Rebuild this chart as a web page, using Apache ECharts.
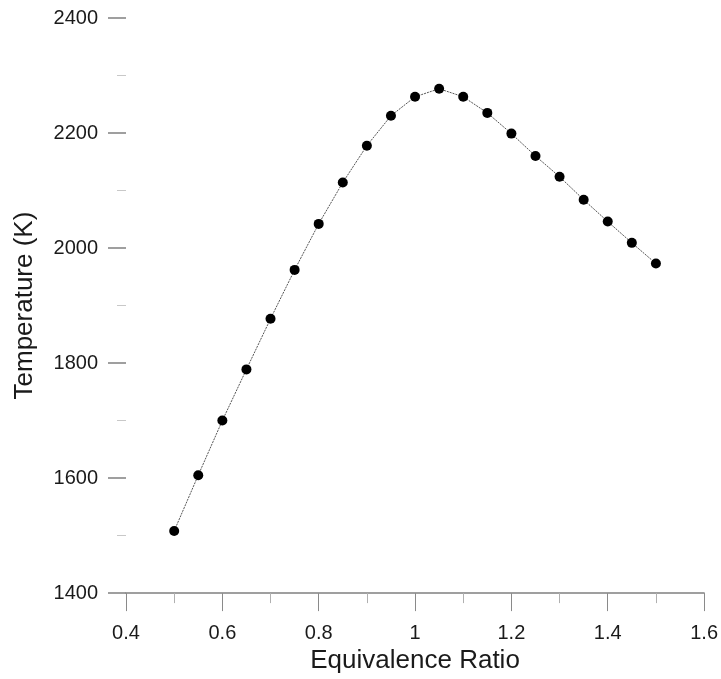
<!DOCTYPE html>
<html>
<head>
<meta charset="utf-8">
<script src="https://cdn.jsdelivr.net/npm/echarts@6/dist/echarts.min.js"></script>
<style>html,body{margin:0;padding:0;background:#fff;}#chart{width:721px;height:679px;}</style>
</head>
<body>
<div id="chart"></div>
<script>
const equivalenceRatio = [0.5,0.55,0.6,0.65,0.7,0.75,0.8,0.85,0.9,0.95,1.0,1.05,1.1,1.15,1.2,1.25,1.3,1.35,1.4,1.45,1.5];
const temperature = [1508,1605,1700,1789,1877,1962,2042,2114,2178,2230,2263,2277,2263,2235,2199,2160,2124,2084,2046,2009,1973];
const xTicks = [0.4,0.6,0.8,1.0,1.2,1.4,1.6];
const yTicks = [1400,1600,1800,2000,2200,2400];

const chart = echarts.init(document.getElementById('chart'));
const font = 'Liberation Sans, Arial, sans-serif';
chart.setOption({
  backgroundColor: '#fff',
  animation: false,
  grid: {left: 126, right: 16, top: 18, bottom: 85},
  xAxis: {
    type: 'value', min: xTicks[0], max: xTicks[xTicks.length-1], interval: 0.2,
    name: 'Equivalence Ratio', nameLocation: 'middle', nameGap: 53,
    nameTextStyle: {fontFamily: font, fontSize: 26, color: '#1a1a1a'},
    axisLine: {show: true, lineStyle: {color: '#808080', width: 1.5}},
    axisTick: {show: true, inside: false, length: 18, lineStyle: {color: '#8a8a8a', width: 1}},
    minorTick: {show: true, splitNumber: 2, length: 10, lineStyle: {color: '#b0b0b0', width: 1}},
    splitLine: {show: false},
    axisLabel: {fontFamily: font, fontSize: 20, color: '#1a1a1a', margin: 30,
      formatter: v => (Math.abs(v-1) < 1e-9 ? '1' : String(+v.toFixed(1)))}
  },
  yAxis: {
    type: 'value', min: yTicks[0], max: yTicks[yTicks.length-1], interval: 200,
    name: 'Temperature (K)', nameLocation: 'middle', nameGap: 88,
    nameTextStyle: {fontFamily: font, fontSize: 26, color: '#1a1a1a'},
    axisLine: {show: false},
    axisTick: {show: true, inside: false, length: 18, lineStyle: {color: '#808080', width: 1.5}},
    minorTick: {show: true, splitNumber: 2, length: 9, lineStyle: {color: '#c8c8c8', width: 1}},
    splitLine: {show: false},
    axisLabel: {fontFamily: font, fontSize: 20, color: '#1a1a1a', margin: 28,
      formatter: v => String(v)}
  },
  series: [{
    type: 'line',
    data: equivalenceRatio.map((x, i) => [x, temperature[i]]),
    symbol: 'circle', symbolSize: 10,
    itemStyle: {color: '#000'},
    lineStyle: {color: '#555', width: 1, type: [2, 1]},
    z: 3
  }]
});
</script>
</body>
</html>
